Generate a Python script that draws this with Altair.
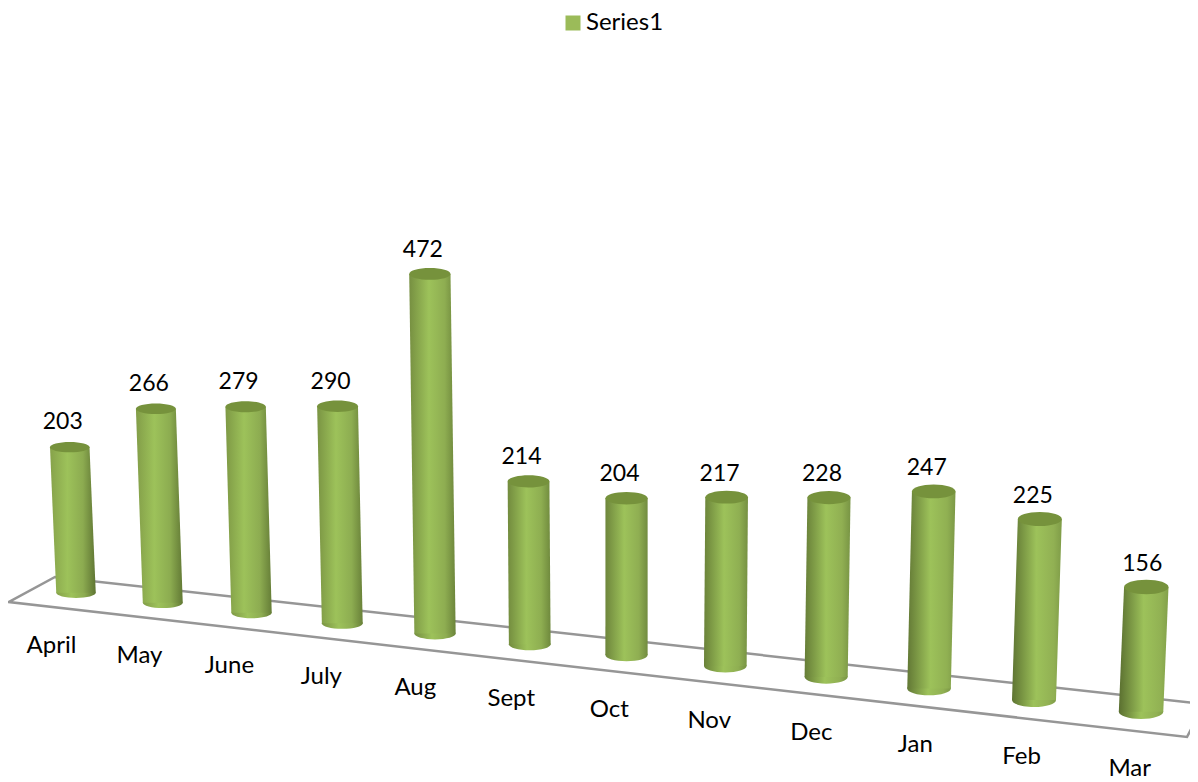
import altair as alt
import pandas as pd

categories = ["April", "May", "June", "July", "Aug", "Sept", "Oct", "Nov", "Dec", "Jan", "Feb", "Mar"]
values = [203, 266, 279, 290, 472, 214, 204, 217, 228, 247, 225, 156]
series_name = "Series1"
FONT = "Lato"
GREEN = "#9BBB59"

# Floor outline of the 3-D plot box
floor_x = [1204, 55, 9, 1187, 1204]
floor_y = [704, 577, 602, 737, 704]


def project(i, v):
    """Perspective projection of category index + value to screen units."""
    scale = 0.729 + 0.0102 * i
    base_x = 76 + 85.8 * i + 0.98 * i * i + 0.002 * i ** 3
    base_y = 598 + 10 * i + 0.09 * i * i
    width = 39.5 + 0.45 * i
    ry = width / 2 * (0.26 + 0.006 * i)
    top_y = base_y - scale * v - 8
    lean = (base_x - 625) * 7.3e-5
    top_x = base_x + lean * (base_y - top_y)
    return dict(bx=base_x, by=base_y - ry, tx=top_x, ty=top_y + ry, w=width, ry=ry, top=top_y, base=base_y)


def mix(a, b, t):
    pa = [int(a[k:k + 2], 16) for k in (1, 3, 5)]
    pb = [int(b[k:k + 2], 16) for k in (1, 3, 5)]
    return "#" + "".join(f"{round(x + (y - x) * t):02x}" for x, y in zip(pa, pb))


def gradient(i):
    t = i / 11
    stops = [
        (0.0, mix("#86a24a", "#5a6f30", t)),
        (0.38 + 0.12 * t, "#9dc25a"),
        (0.72 + 0.13 * t, mix("#8cab50", "#91b153", t)),
        (1.0, mix("#5f7533", "#82a04a", t)),
    ]
    return alt.LinearGradient(
        gradient="linear", x1=0, y1=0, x2=1, y2=0,
        stops=[alt.GradientStop(offset=o, color=c) for o, c in stops],
    )


def ellipse(ratio):
    return f"M-1,0A1,{ratio:.3f} 0 1,1 1,0A1,{ratio:.3f} 0 1,1 -1,0Z"


X = alt.Scale(domain=[8, 1190], nice=False, zero=False)
Y = alt.Scale(domain=[782, 8], nice=False, zero=False)
x_enc = lambda f: alt.X(f, type="quantitative", scale=X, axis=None, stack=None)
y_enc = lambda f: alt.Y(f, type="quantitative", scale=Y, axis=None, stack=None)

floor = pd.DataFrame({"x": floor_x, "y": floor_y, "o": range(len(floor_x))})
floor_layer = alt.Chart(floor).mark_line(color="#969696", strokeWidth=2.5, clip=True).encode(
    x=x_enc("x"), y=y_enc("y"), order="o:Q"
)

layers = [floor_layer]
label_rows = []
for i, (cat, v) in enumerate(zip(categories, values)):
    p = project(i, v)
    grad = gradient(i)
    body = pd.DataFrame({
        "y": [p["ty"], p["by"]],
        "xl": [p["tx"] - p["w"] / 2, p["bx"] - p["w"] / 2],
        "xr": [p["tx"] + p["w"] / 2, p["bx"] + p["w"] / 2],
    })
    size = p["w"] ** 2
    ratio = 2 * p["ry"] / p["w"]
    bottom = pd.DataFrame({"x": [p["bx"]], "y": [p["by"]]})
    top = pd.DataFrame({"x": [p["tx"]], "y": [p["ty"]]})
    layers.append(alt.Chart(bottom).mark_point(
        shape=ellipse(ratio), filled=True, size=size, opacity=1, color=grad
    ).encode(x=x_enc("x"), y=y_enc("y")))
    layers.append(alt.Chart(body).mark_area(orient="horizontal", color=grad).encode(
        y=y_enc("y"), x=x_enc("xl"), x2="xr:Q"
    ))
    layers.append(alt.Chart(top).mark_point(
        shape=ellipse(ratio), filled=True, size=size, opacity=1, color="#76923c"
    ).encode(x=x_enc("x"), y=y_enc("y")))
    label_rows.append({
        "month": cat, "value": v,
        "vx": p["tx"] - 7 + (3 if i == 11 else 0), "vy": p["top"] - 20 + 0.4 * i,
        "mx": p["bx"] - 24.5 + 1.2 * i, "my": p["base"] + 47.5 + 0.2 * i,
    })

labels = pd.DataFrame(label_rows)
value_text = alt.Chart(labels).mark_text(font=FONT, fontSize=23, color="#000000", baseline="middle").encode(
    x=x_enc("vx"), y=y_enc("vy"), text="value:Q"
)
month_text = alt.Chart(labels).mark_text(font=FONT, fontSize=24, color="#000000", baseline="middle").encode(
    x=x_enc("mx"), y=y_enc("my"), text="month:N"
)
legend_layer = alt.Chart(pd.DataFrame({"s": [series_name], "x": [600], "y": [20]})).mark_square(opacity=0).encode(
    x=x_enc("x"), y=y_enc("y"),
    color=alt.Color("s:N", scale=alt.Scale(domain=[series_name], range=[GREEN]), legend=alt.Legend(
        title=None, orient="none", legendX=553, legendY=3, symbolType="square", symbolSize=225,
        symbolOpacity=1, symbolStrokeWidth=0, labelFont=FONT, labelFontSize=24, labelColor="#000000",
        labelOffset=1,
    )),
)

chart = alt.layer(*layers, value_text, month_text, legend_layer).properties(
    width=1182, height=774, padding=0, autosize=alt.AutoSizeParams(type="none")
).configure_view(stroke=None)

chart.save("out.html", embed_options={"renderer": "svg", "actions": False})
